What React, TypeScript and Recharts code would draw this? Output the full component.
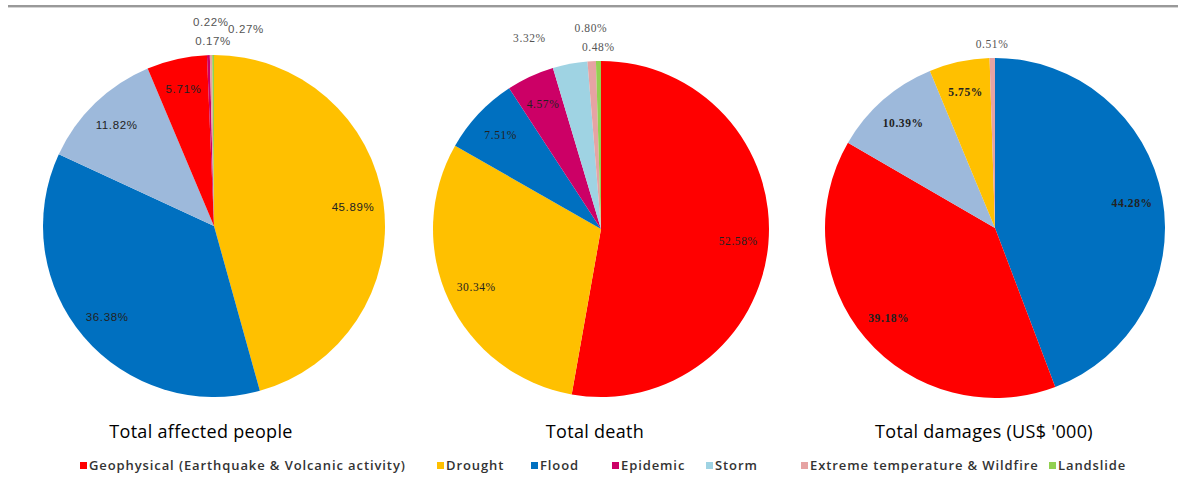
import React from "react";
import { PieChart, Pie, Cell } from "recharts";

const GEO = "Geophysical (Earthquake & Volcanic activity)";
const DROUGHT = "Drought";
const FLOOD = "Flood";
const EPIDEMIC = "Epidemic";
const STORM = "Storm";
const EXTREME = "Extreme temperature & Wildfire";
const LANDSLIDE = "Landslide";

const LEGEND_ORDER = [GEO, DROUGHT, FLOOD, EPIDEMIC, STORM, EXTREME, LANDSLIDE];

// slices are sorted largest first, as in the source sheet
const affectedNames = [DROUGHT, FLOOD, STORM, GEO, EPIDEMIC, EXTREME, LANDSLIDE];
const affectedValues = [45.89, 36.38, 11.82, 5.71, 0.27, 0.22, 0.17];

const deathNames = [GEO, DROUGHT, FLOOD, EPIDEMIC, STORM, EXTREME, LANDSLIDE];
const deathValues = [52.58, 30.34, 7.51, 4.57, 3.32, 0.8, 0.48];

const damageNames = [FLOOD, GEO, STORM, DROUGHT, EXTREME];
const damageValues = [44.28, 39.18, 10.39, 5.75, 0.51];

const COLORS: Record<string, string> = {
  [GEO]: "#ff0000",
  [DROUGHT]: "#ffc000",
  [FLOOD]: "#0070c0",
  [EPIDEMIC]: "#cc0066",
  [STORM]: "#9fd3e3",
  [EXTREME]: "#e6a3a3",
  [LANDSLIDE]: "#92d050",
};
// storm is drawn in a greyer blue in the first and last chart
const STORM_ALT = "#9db9db";

// legend item left edges, px
const LEGEND_X = [80, 437, 531, 612, 706, 801, 1049];

const BOX_W = 34;
const BOX_H = 11;

type LabelPos = { x: number; y: number; outside: boolean };

function layoutLabels(values: number[], cx: number, cy: number, r: number): LabelPos[] {
  const total = values.reduce((a, b) => a + b, 0);
  let acc = 0;
  const res = values.map((v) => {
    const mid = ((acc + v / 2) / total) * 360;
    acc += v;
    const inside = v / total >= 0.04;
    const rr = inside ? r * 0.82 : r + 14;
    const a = (mid * Math.PI) / 180;
    return { x: cx + rr * Math.sin(a), y: cy - rr * Math.cos(a), outside: !inside };
  });
  // push small outside labels apart, last slice first
  const placed: LabelPos[] = [];
  for (let i = res.length - 1; i >= 0; i--) {
    const p = res[i];
    if (!p.outside) continue;
    const tries = [
      [0, 0],
      [0, -19],
      [BOX_W + 4, -12],
      [-(BOX_W + 4), -12],
    ];
    for (const [dx, dy] of tries) {
      const x = p.x + dx;
      const y = p.y + dy;
      const hit = placed.some(
        (q) => Math.abs(q.x - x) < BOX_W && Math.abs(q.y - y) < BOX_H
      );
      if (!hit) {
        p.x = x;
        p.y = y;
        break;
      }
    }
    placed.push(p);
  }
  return res;
}

interface PieSpec {
  names: string[];
  values: number[];
  cx: number;
  cy: number;
  r: number;
  stormColor: string;
  font: string;
  weight: string;
}

const PIES: PieSpec[] = [
  { names: affectedNames, values: affectedValues, cx: 214, cy: 226, r: 171, stormColor: STORM_ALT, font: "'Liberation Sans', Arial, sans-serif", weight: "normal" },
  { names: deathNames, values: deathValues, cx: 601, cy: 229, r: 168, stormColor: COLORS[STORM], font: "'Liberation Serif', serif", weight: "normal" },
  { names: damageNames, values: damageValues, cx: 995, cy: 228, r: 170, stormColor: STORM_ALT, font: "'Liberation Serif', serif", weight: "bold" },
];

const TITLES = [
  { text: "Total affected people", x: 201 },
  { text: "Total death", x: 595 },
  { text: "Total damages (US$ '000)", x: 984 },
];

const App: React.FC = () => {
  return (
    <div
      style={{
        position: "absolute",
        left: 0,
        top: 0,
        width: 1178,
        height: 490,
        background: "#fff",
        overflow: "hidden",
      }}
    >
      <div style={{ position: "absolute", left: 8, right: 0, top: 5, height: 2, background: "#999" }} />
      <div style={{ position: "absolute", left: 8, right: 0, top: 7, height: 1, background: "#d4d4d4" }} />

      <div style={{ position: "absolute", left: 0, top: 0 }}>
        <PieChart width={1178} height={410} margin={{ top: 0, right: 0, bottom: 0, left: 0 }}>
          {PIES.map((p, pi) => {
            const data = p.names.map((name, i) => ({ name, value: p.values[i] }));
            const labels = layoutLabels(p.values, p.cx, p.cy, p.r);
            return (
              <Pie
                key={pi}
                data={data}
                dataKey="value"
                nameKey="name"
                cx={p.cx}
                cy={p.cy}
                outerRadius={p.r}
                startAngle={90}
                endAngle={-270}
                stroke="none"
                isAnimationActive={false}
                labelLine={false}
                label={(props: any) => {
                  const pos = labels[props.index];
                  const pct = p.values[props.index].toFixed(2) + "%";
                  return (
                    <text
                      key={props.index}
                      x={pos.x}
                      y={pos.y}
                      textAnchor="middle"
                      dominantBaseline="central"
                      fontFamily={p.font}
                      fontWeight={pos.outside ? "normal" : p.weight}
                      fontSize={11.5}
                      letterSpacing={0.6}
                      fill={pos.outside ? "#555" : "#222"}
                    >
                      {pct}
                    </text>
                  );
                }}
              >
                {data.map((d) => (
                  <Cell key={d.name} fill={d.name === STORM ? p.stormColor : COLORS[d.name]} />
                ))}
              </Pie>
            );
          })}
        </PieChart>
      </div>

      {TITLES.map((t) => (
        <div
          key={t.text}
          style={{
            position: "absolute",
            left: t.x - 150,
            width: 300,
            top: 419,
            textAlign: "center",
            fontFamily: "'Open Sans', sans-serif",
            fontSize: 18,
            letterSpacing: 0.3,
            color: "#000",
            whiteSpace: "nowrap",
          }}
        >
          {t.text}
        </div>
      ))}

      {LEGEND_ORDER.map((name, i) => (
        <div
          key={name}
          style={{
            position: "absolute",
            left: LEGEND_X[i],
            top: 456,
            display: "flex",
            alignItems: "center",
            fontFamily: "'Open Sans', sans-serif",
            fontSize: 13,
            letterSpacing: 0.9,
            fontWeight: 600,
            color: "#333",
            whiteSpace: "nowrap",
          }}
        >
          <span style={{ width: 7, height: 7, background: COLORS[name], marginRight: 2, display: "inline-block" }} />
          {name}
        </div>
      ))}
    </div>
  );
};

export default App;
